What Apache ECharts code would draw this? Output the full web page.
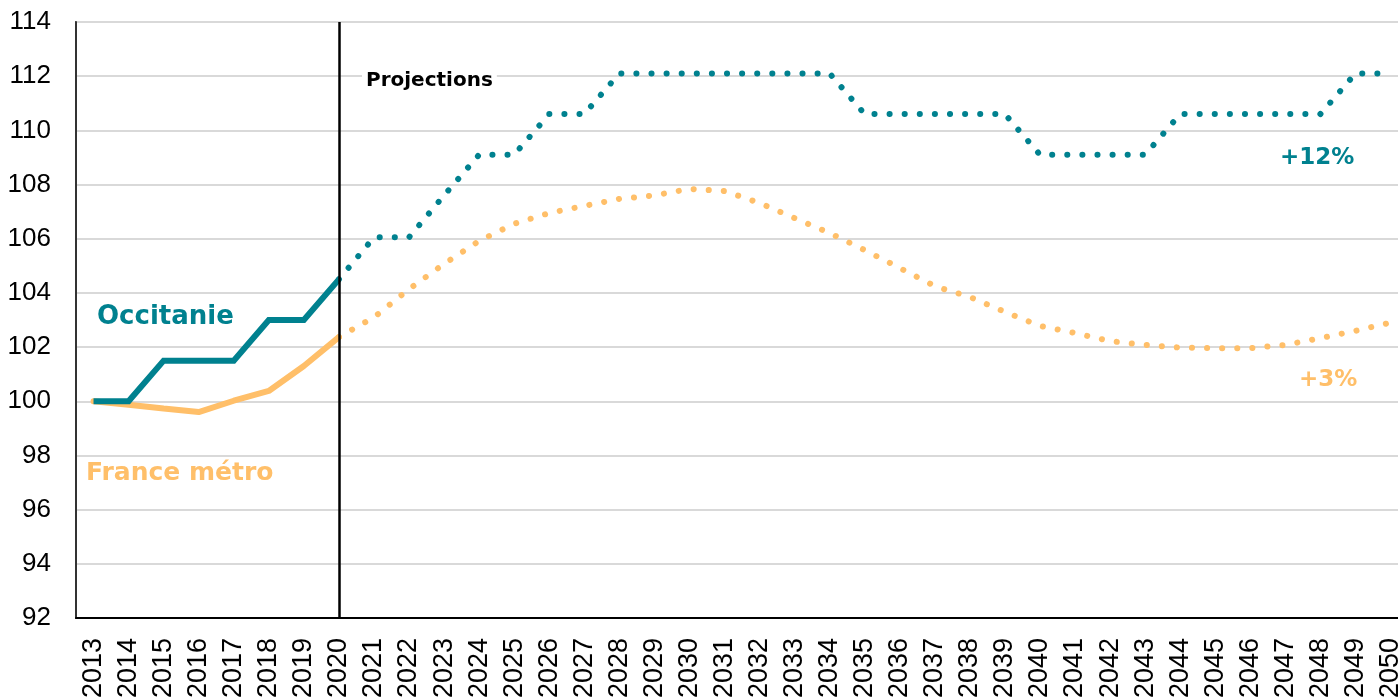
<!DOCTYPE html>
<html>
<head>
<meta charset="utf-8">
<script src="https://cdn.jsdelivr.net/npm/echarts@6/dist/echarts.min.js"></script>
<style>
  html, body { margin: 0; padding: 0; background: #fff; }
  #chart { width: 1398px; height: 697px; }
</style>
</head>
<body>
<div id="chart"></div>
<script>
// années
var years = [];
for (var y = 2013; y <= 2050; y++) years.push(String(y));

// indice base 100 en 2013
var occitanie = [100, 100, 101.5, 101.5, 101.5, 103, 103, 104.5,
  106.05, 106.05, 107.6, 109.1, 109.1, 110.6, 110.6, 112.1, 112.1, 112.1,
  112.1, 112.1, 112.1, 112.1, 110.6, 110.6, 110.6, 110.6, 110.6, 109.1,
  109.1, 109.1, 109.1, 110.6, 110.6, 110.6, 110.6, 110.6, 112.1, 112.1];
var franceMetro = [100, 99.87, 99.73, 99.6, 100.02, 100.38, 101.3, 102.37,
  103.1, 104.14, 105.07, 105.92, 106.55, 106.95, 107.21, 107.47, 107.6, 107.84,
  107.76, 107.32, 106.76, 106.21, 105.58, 104.92, 104.25, 103.85, 103.3, 102.78,
  102.52, 102.22, 102.08, 101.98, 101.96, 101.96, 102.08, 102.33, 102.6, 102.9];

var yTicks = [92, 94, 96, 98, 100, 102, 104, 106, 108, 110, 112, 114];
var lastObs = '2020';

var teal = '#00818f';
var orange = '#ffbf69';

function part(arr, from, to) {// garde les valeurs entre deux index, le reste vide
  return arr.map(function (v, i) { return (i >= from && i <= to) ? v : null; });
}
var iObs = years.indexOf(lastObs);

function label(txt, x, y, size, color, bg) {// texte libre en gras
  var st = { text: txt, fontFamily: 'DejaVu Sans', fontWeight: 'bold', fontSize: size, fill: color };
  if (bg) { st.backgroundColor = bg; st.padding = [3, 4]; }
  return { type: 'text', left: x, top: y, z: 100, style: st };
}

var chart = echarts.init(document.getElementById('chart'));

var option = {
  animation: false,
  grid: {
    left: 76, top: 22, right: -10, bottom: 79,
    outerBoundsMode: 'none', containLabel: false,
    show: true, borderColor: '#333', borderWidth: 1.5
  },
  xAxis: {
    type: 'category',
    data: years,
    boundaryGap: true,
    axisLine: { lineStyle: { color: '#000', width: 2 } },
    axisTick: { show: false },
    axisLabel: {
      rotate: 90, interval: 0, margin: 20,
      fontFamily: 'Liberation Sans', fontSize: 27, color: '#000'
    }
  },
  yAxis: {
    type: 'value',
    min: yTicks[0], max: yTicks[yTicks.length - 1], interval: 2,
    axisLine: { show: true, lineStyle: { color: '#333', width: 2 } },
    axisTick: { show: false },
    axisLabel: { margin: 25, fontFamily: 'Liberation Sans', fontSize: 26, color: '#000' },
    splitLine: { lineStyle: { color: '#d9d9d9', width: 2 } }
  },
  series: [
    {
      name: 'Occitanie', type: 'line', data: part(occitanie, 0, iObs),
      symbol: 'none', lineStyle: { color: teal, width: 6, join: 'miter' }, z: 3
    },
    {
      name: 'Occitanie proj', type: 'line', data: part(occitanie, iObs, years.length - 1),
      symbol: 'none', lineStyle: { color: teal, width: 6, type: [0.1, 15], cap: 'round' }, z: 3
    },
    {
      name: 'France métro', type: 'line', data: part(franceMetro, 0, iObs),
      symbol: 'none', lineStyle: { color: orange, width: 6, cap: 'round' }, z: 2
    },
    {
      name: 'France métro proj', type: 'line', data: part(franceMetro, iObs, years.length - 1),
      symbol: 'none', lineStyle: { color: orange, width: 6, type: [0.1, 15], cap: 'round' }, z: 2,
      markLine: {
        silent: true, symbol: 'none', label: { show: false },
        lineStyle: { color: '#000', width: 2.5, type: 'solid' },
        data: [{ xAxis: lastObs }]
      }
    }
  ],
  graphic: [
    label('Projections', 362, 68, 20, '#000', '#fff'),
    label('Occitanie', 97, 304, 26, teal),
    label('France métro', 86, 461, 25, orange),
    label('+12%', 1280, 147, 23, teal),
    label('+3%', 1299, 369, 23, orange)
  ]
};
chart.setOption(option);
</script>
</body>
</html>
